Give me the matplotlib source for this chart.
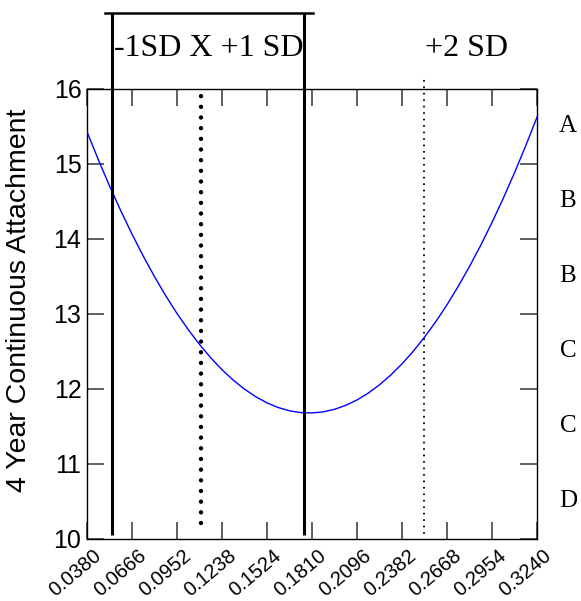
import matplotlib
matplotlib.use("Agg")
import matplotlib.pyplot as plt
import matplotlib.transforms as mtransforms

# ---- data ----
x_vals = [0.03800, 0.04515, 0.05230, 0.05945, 0.06660, 0.07375, 0.08090, 0.08805, 0.09520,
          0.10235, 0.10950, 0.11665, 0.12380, 0.13095, 0.13810, 0.14525, 0.15240, 0.15955,
          0.16670, 0.17385, 0.18100, 0.18815, 0.19530, 0.20245, 0.20960, 0.21675, 0.22390,
          0.23105, 0.23820, 0.24535, 0.25250, 0.25965, 0.26680, 0.27395, 0.28110, 0.28825,
          0.29540, 0.30255, 0.30970, 0.31685, 0.32400]
y_vals = [15.430, 15.060, 14.709, 14.377, 14.065, 13.772, 13.498, 13.243, 13.007,
          12.791, 12.594, 12.416, 12.257, 12.118, 11.998, 11.897, 11.815, 11.753,
          11.709, 11.685, 11.681, 11.695, 11.729, 11.782, 11.854, 11.945, 12.056,
          12.186, 12.335, 12.503, 12.691, 12.897, 13.123, 13.369, 13.633, 13.917,
          14.220, 14.542, 14.883, 15.244, 15.624]

x_ticks = [0.0380, 0.0666, 0.0952, 0.1238, 0.1524, 0.1810, 0.2096, 0.2382, 0.2668, 0.2954, 0.3240]
x_tick_labels = ["0.0380", "0.0666", "0.0952", "0.1238", "0.1524", "0.1810",
                 "0.2096", "0.2382", "0.2668", "0.2954", "0.3240"]
y_ticks = [10, 11, 12, 13, 14, 15, 16]

sd_minus1 = 0.0541
sd_plus1 = 0.1761
mean_x = 0.1103
sd_plus2 = 0.2524

grade_labels = ["A", "B", "B", "C", "C", "D"]
grade_y = [15.5, 14.5, 13.5, 12.5, 11.5, 10.5]

y_label = "4 Year Continuous Attachment"

# ---- figure ----
fig = plt.figure(figsize=(5.81, 6.01), dpi=100)
ax = fig.add_axes([87/581, 1-539/601, 450/581, 450/601])

ax.plot(x_vals, y_vals, color="#0000ff", lw=1.0, zorder=3)

ax.set_xlim(0.038, 0.324)
ax.set_ylim(10, 16)
ax.set_xticks(x_ticks)
ax.set_xticklabels(x_tick_labels, rotation=40, ha="right", rotation_mode="anchor",
                   fontsize=14.5, family="Liberation Sans")
ax.set_yticks(y_ticks)
ax.set_yticklabels([str(v) for v in y_ticks], fontsize=18, family="Liberation Sans")
ax.tick_params(axis="both", direction="in", length=12, width=1.2, color="#444444",
               top=True, right=True)
ax.tick_params(axis="y", pad=4)
ax.tick_params(axis="x", pad=5)
offset = mtransforms.ScaledTranslation(6/100, 0, fig.dpi_scale_trans)
for lab in ax.get_xticklabels():
    lab.set_transform(lab.get_transform() + offset)
for s in ax.spines.values():
    s.set_linewidth(1.0)
    s.set_color("black")

ax.set_ylabel(y_label, fontsize=20.5, family="Liberation Sans")
ax.yaxis.set_label_coords(-0.122, 0.53)

trans = mtransforms.blended_transform_factory(ax.transData, ax.transAxes)

# solid SD lines with top bracket
for xv in (sd_minus1, sd_plus1):
    ax.plot([xv, xv], [0.009, 1.17], color="black", lw=2.2, transform=trans,
            clip_on=False, solid_capstyle="butt", zorder=4)
ax.plot([sd_minus1 - 0.0047, sd_plus1 + 0.0055], [1.17, 1.17], color="black", lw=1.8,
        transform=trans, clip_on=False, zorder=4)

# mean (big dots)
ax.plot([mean_x, mean_x], [0.036, 0.987], color="black", lw=3.2,
        linestyle=(0, (0.001, 2.4)), dash_capstyle="round", transform=trans,
        clip_on=False, zorder=4)
# +2 SD (small dots)
ax.plot([sd_plus2, sd_plus2], [0.013, 1.022], color="black", lw=1.5,
        linestyle=(0, (0.001, 3.1)), dash_capstyle="round", transform=trans,
        clip_on=False, zorder=4)

ax.text((sd_minus1 + sd_plus1) / 2, 1.091, "-1SD X +1 SD", transform=trans,
        ha="center", va="center", fontsize=23, family="Liberation Serif")
ax.text(0.2789, 1.091, "+2 SD", transform=trans,
        ha="center", va="center", fontsize=23, family="Liberation Serif")

trans_r = mtransforms.blended_transform_factory(ax.transAxes, ax.transData)
for lab, yv in zip(grade_labels, grade_y):
    ax.text(1.069, yv, lab, transform=trans_r, ha="center", va="center",
            fontsize=18, family="Liberation Serif")

fig.savefig("out.png", dpi=100)
